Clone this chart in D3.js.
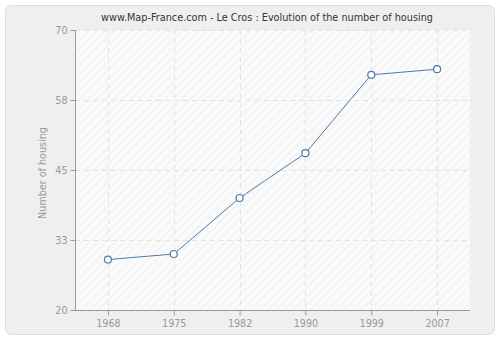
<!DOCTYPE html>
<html><head><meta charset="utf-8">
<script src="https://cdn.jsdelivr.net/npm/d3@7"></script>
<style>html,body{margin:0;padding:0;background:#fff;}svg{display:block;}</style>
</head><body>
<svg id="c" width="500" height="340"></svg>
<script>
const years = ["1968","1975","1982","1990","1999","2007"];
const housing = [29, 30, 40, 48, 62, 63];
const yTicks = [20, 32.5, 45, 57.5, 70];
const yTickLabels = ["20","33","45","58","70"];
const title = "www.Map-France.com - Le Cros : Evolution of the number of housing";
const yTitle = "Number of housing";

const svg = d3.select("#c");
const font = "DejaVu Sans, Verdana, sans-serif";
const pLeft = 75, pRight = 470, pTop = 30, pBottom = 310;

const defs = svg.append("defs");
const pat = defs.append("pattern").attr("id","hatch").attr("patternUnits","userSpaceOnUse")
  .attr("width",6).attr("height",6).attr("patternTransform","rotate(45)");
pat.append("rect").attr("width",6).attr("height",6).attr("fill","#fafafa");
pat.append("line").attr("x1",0).attr("y1",0).attr("x2",0).attr("y2",6).attr("stroke","#ececec").attr("stroke-width",1.5);

svg.append("rect").attr("x",5.5).attr("y",5.5).attr("width",489).attr("height",329)
  .attr("rx",6).attr("fill","#efefef").attr("stroke","#dddddd");

svg.append("rect").attr("x",pLeft).attr("y",pTop).attr("width",pRight-pLeft).attr("height",pBottom-pTop)
  .attr("fill","url(#hatch)");

const x = d3.scalePoint().domain(years).range([pLeft,pRight]).padding(0.5);
const y = d3.scaleLinear().domain([20,70]).range([pBottom,pTop]);

// grid
const g = svg.append("g");
g.selectAll(".hg").data(yTicks.slice(1)).join("line")
  .attr("x1",pLeft).attr("x2",pRight).attr("y1",d=>Math.round(y(d))+0.5).attr("y2",d=>Math.round(y(d))+0.5)
  .attr("stroke","#e2e2e2").attr("stroke-dasharray","5,4");
g.selectAll(".vg").data(years).join("line")
  .attr("x1",d=>Math.round(x(d))+0.5).attr("x2",d=>Math.round(x(d))+0.5).attr("y1",pTop).attr("y2",pBottom)
  .attr("stroke","#e2e2e2").attr("stroke-dasharray","5,4");

// axes
const yAxis = d3.axisLeft(y).tickValues(yTicks).tickFormat((d,i)=>yTickLabels[i]).tickSize(5).tickPadding(3);
const ya = svg.append("g").attr("transform",`translate(${pLeft+0.5},0)`).call(yAxis);
const xAxis = d3.axisBottom(x).tickSize(5).tickPadding(5);
const xa = svg.append("g").attr("transform",`translate(0,${pBottom+0.5})`).call(xAxis);
[ya,xa].forEach(a=>{
  a.select(".domain").attr("stroke","#999");
  a.selectAll(".tick line").attr("stroke","#999");
  a.selectAll("text").attr("fill","#999").attr("font-family",font).attr("font-size",9.6);
});
xa.select(".domain").attr("d",`M${pLeft},0H${pRight}`);
ya.select(".domain").attr("d",`M0,${pTop}V${pBottom}`);

// line
const line = d3.line().x((d,i)=>x(years[i])).y(d=>y(d));
svg.append("path").datum(housing).attr("d",line).attr("fill","none")
  .attr("stroke","#4f79ab").attr("stroke-width",1);
svg.selectAll(".pt").data(housing).join("circle")
  .attr("cx",(d,i)=>x(years[i])).attr("cy",d=>y(d)).attr("r",3.5)
  .attr("fill","#fff").attr("stroke","#4f79ab").attr("stroke-width",1.2);

svg.append("text").attr("x",267).attr("y",21).attr("text-anchor","middle")
  .attr("font-family",font).attr("font-size",9.7).attr("fill","#333").text(title);
svg.append("text").attr("transform","translate(46,173) rotate(-90)").attr("text-anchor","middle")
  .attr("font-family",font).attr("font-size",9.6).attr("fill","#999").text(yTitle);
</script>
</body></html>
